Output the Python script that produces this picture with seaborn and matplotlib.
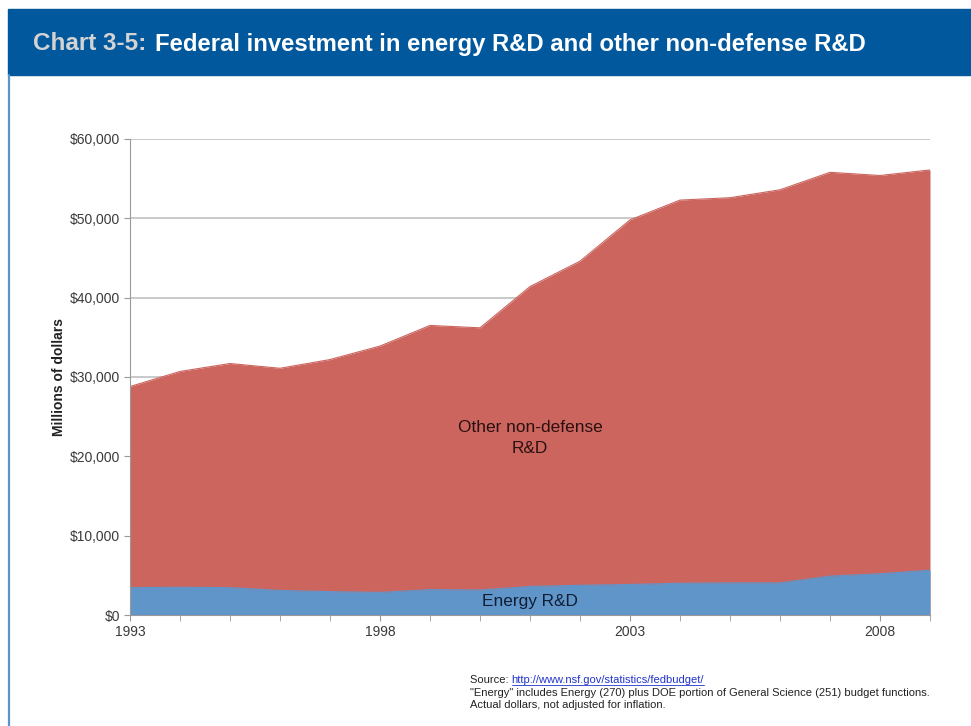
import pandas as pd
import numpy as np
import seaborn as sns
import matplotlib.pyplot as plt
from matplotlib.patches import Rectangle
from matplotlib.lines import Line2D

years = list(range(1993, 2010))
# millions of dollars
energy = [3450, 3500, 3450, 3100, 2950, 2850, 3200, 3150, 3600, 3750,
          3850, 4000, 4050, 4050, 4900, 5200, 5650]
total = [28800, 30700, 31700, 31100, 32200, 33900, 36500, 36200, 41400, 44600,
         49800, 52300, 52600, 53600, 55800, 55400, 56100]
year_labels = [1993, 1998, 2003, 2008]
y_ticks = [0, 10000, 20000, 30000, 40000, 50000, 60000]

df = pd.DataFrame({'year': years, 'energy': energy, 'total': total})

sns.set_style('white')
plt.rcParams['font.family'] = ['Liberation Sans', 'DejaVu Sans']

fig = plt.figure(figsize=(9.71, 7.26), dpi=100)
W, H = 971, 726

# header bar and frame
fig.patches.append(Rectangle((8 / W, 1 - 75 / H), 1, 66 / H, transform=fig.transFigure,
                             color='#02589C', zorder=0))
fig.lines.append(Line2D([9 / W, 9 / W], [0, 1 - 75 / H], transform=fig.transFigure,
                        color='#5B93CC', lw=1.6))
fig.text(33 / W, 1 - 44 / H, 'Chart 3-5:', color='#D3D3D3', fontsize=17.5,
         fontweight='bold', va='center', ha='left')
fig.text(155 / W, 1 - 44 / H, 'Federal investment in energy R&D and other non-defense R&D',
         color='white', fontsize=17.2, fontweight='bold', va='center', ha='left')

ax = fig.add_axes([130 / W, 1 - 615 / H, 800 / W, 476 / H])

red = '#CC655E'
blue = '#6095CA'
ax.fill_between(df['year'], 0, df['total'], color=red, lw=0, zorder=2)
ax.fill_between(df['year'], 0, df['energy'], color=blue, lw=0, zorder=3)
sns.lineplot(data=df, x='year', y='total', color=red, lw=0.8, ax=ax, zorder=2)
sns.lineplot(data=df, x='year', y='energy', color=blue, lw=0.8, ax=ax, zorder=3)

ax.set_xlim(1993, 2009)
ax.set_ylim(0, 60000)
ax.set_yticks(y_ticks)
ax.set_yticklabels([f'${v:,.0f}' for v in y_ticks], color='#3a3a3a', fontsize=10)
ax.set_xticks(years, minor=True)
ax.set_xticks(year_labels)
ax.set_xticklabels([str(y) for y in year_labels], color='#3a3a3a', fontsize=10)
ax.tick_params(axis='x', which='both', direction='out', length=4, color='#999999',
               bottom=True, pad=3)
ax.tick_params(axis='y', direction='out', length=4, color='#999999', left=True, pad=3)
ax.yaxis.grid(True, color='#C0C0C0', lw=1.2, zorder=1)
ax.set_axisbelow(True)
for s in ['top', 'right']:
    ax.spines[s].set_visible(False)
for s in ['left', 'bottom']:
    ax.spines[s].set_color('#999999')
    ax.spines[s].set_zorder(4)
ax.set_xlabel('')
ax.set_ylabel('Millions of dollars', fontsize=10, fontweight='bold', color='#222222',
              labelpad=3)

ax.text(2001, 22300, 'Other non-defense\nR&D', ha='center', va='center', fontsize=12.4,
        color='#2a1010', linespacing=1.45, zorder=5)
ax.text(2001, 1700, 'Energy R&D', ha='center', va='center', fontsize=12.4,
        color='#0f1e33', zorder=5)

fs = 8
src = fig.text(470 / W, 1 - 680 / H, 'Source: ', fontsize=fs, color='#222222', va='center')
fig.canvas.draw()
ext = src.get_window_extent()
url = fig.text(ext.x1 / W, 1 - 680 / H, 'http://www.nsf.gov/statistics/fedbudget/',
               fontsize=fs, color='#2233CC', va='center')
fig.canvas.draw()
uext = url.get_window_extent()
fig.lines.append(Line2D([uext.x0 / W, uext.x1 / W], [(uext.y0 + 0.5) / H, (uext.y0 + 0.5) / H],
                        transform=fig.transFigure, color='#2233CC', lw=0.6))
fig.text(470 / W, 1 - 692.5 / H,
         '"Energy" includes Energy (270) plus DOE portion of General Science (251) budget functions.',
         fontsize=fs, color='#222222', va='center')
fig.text(470 / W, 1 - 705 / H, 'Actual dollars, not adjusted for inflation.',
         fontsize=fs, color='#222222', va='center')

fig.savefig('out.png', dpi=100)
